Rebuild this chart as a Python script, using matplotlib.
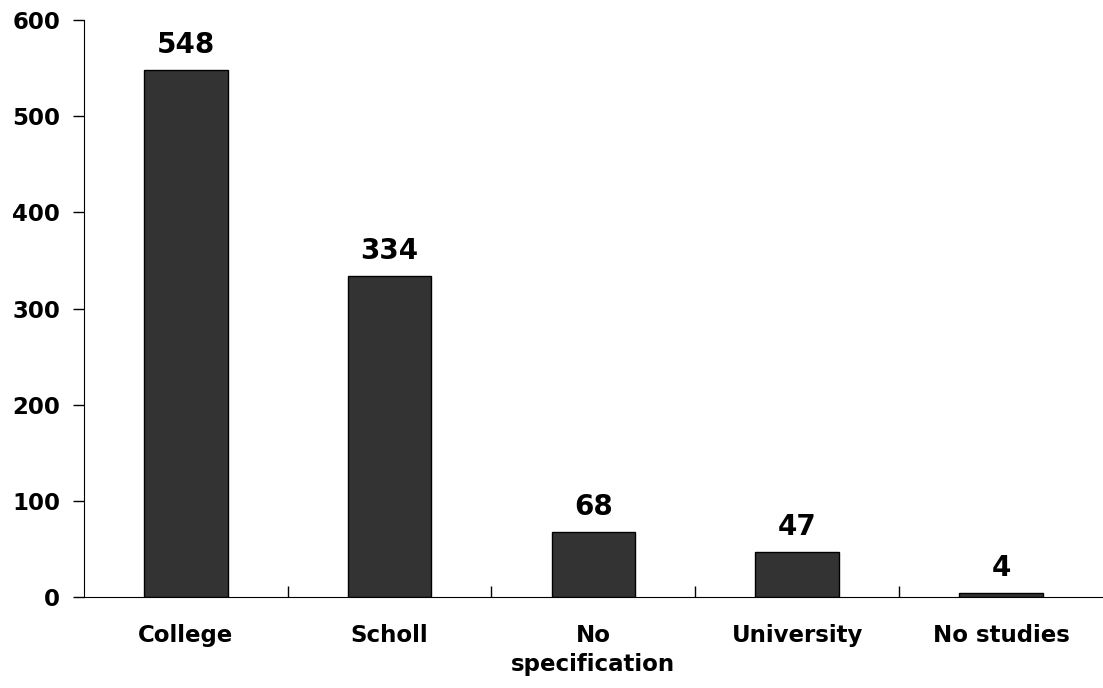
import numpy as np
import matplotlib.pyplot as plt

categories = ['College', 'Scholl', 'No\nspecification', 'University', 'No studies']
counts = [548, 334, 68, 47, 4]
yticks = [0, 100, 200, 300, 400, 500, 600]

plt.rcParams['font.family'] = ['DejaVu Sans']
plt.rcParams['font.weight'] = 'bold'

fig = plt.figure(figsize=(11.03, 6.88), dpi=100)
ax = fig.add_axes([0.076, 0.132, 0.924, 0.839])

x = np.arange(len(categories))
ax.bar(x, counts, width=0.41, color='#333333', edgecolor='black', linewidth=1)

for xi, v in zip(x, counts):
    ax.annotate(str(v), (xi, v), xytext=(0, 8), textcoords='offset points',
                ha='center', va='bottom', fontsize=20, fontweight='bold')

ax.set_xlim(-0.5, len(categories) - 0.5)
ax.set_ylim(0, 600)
ax.set_yticks(yticks)
ax.set_yticklabels([str(t) for t in yticks], fontsize=16.5, fontweight='bold')
ax.tick_params(axis='y', direction='out', length=8, width=1, pad=9)

# category labels without ticks, ticks drawn at boundaries
ax.set_xticks(x)
ax.set_xticklabels(categories, fontsize=16.5, fontweight='bold', linespacing=1.35)
ax.tick_params(axis='x', which='major', length=0, pad=19)
ax.set_xticks(np.arange(0.5, len(categories) - 0.5), minor=True)
ax.tick_params(axis='x', which='minor', direction='in', length=8, width=1)

ax.spines['top'].set_visible(False)
ax.spines['right'].set_visible(False)

fig.savefig('out.png', dpi=100)
